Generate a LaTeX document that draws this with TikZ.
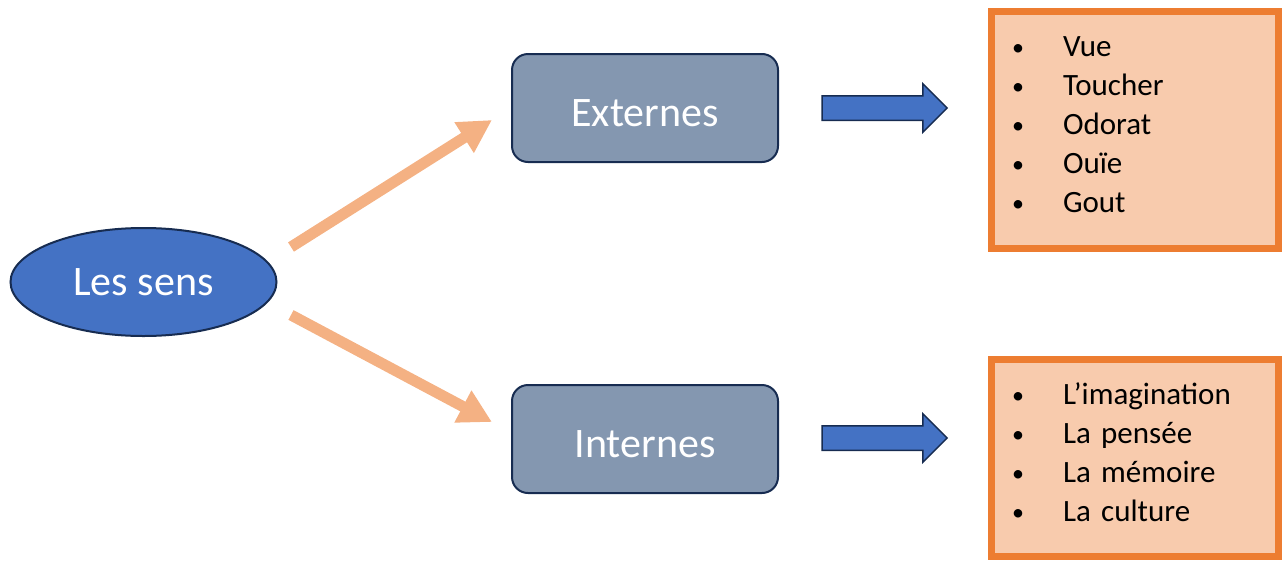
\documentclass[tikz,border=0pt]{standalone}
\usepackage{fontspec}
\setmainfont{Carlito}
\usetikzlibrary{calc, arrows.meta, shapes.geometric, shapes.arrows}
\usepackage{xcolor}
\definecolor{c1}{HTML}{4472C4}
\definecolor{c2}{HTML}{172C51}
\definecolor{c3}{HTML}{8497B0}
\definecolor{c4}{HTML}{F4B183}
\definecolor{c5}{HTML}{F8CBAD}
\definecolor{c6}{HTML}{ED7D31}

\newcommand{\itm}[1]{\makebox[51pt][l]{\raisebox{1.5pt}{\fontsize{24}{24}\selectfont •}}#1}
\newcommand{\senslist}[1]{\raisebox{2.5pt}[\height][\depth]{\begin{tabular}{@{}l@{}}#1\end{tabular}}}

\begin{document}
\begin{tikzpicture}[x=1pt, y=-1pt,
		sens/.style={ellipse, draw=c2, fill=c1, line width=2pt, minimum width=266pt, minimum height=108pt, inner sep=0pt, text=white, font=\fontsize{42}{50}\selectfont},
		kind/.style={rectangle, rounded corners=16pt, draw=c2, fill=c3, line width=2pt, minimum width=266pt, minimum height=108pt, inner sep=0pt, text height=36pt, text depth=0pt, text=white, font=\fontsize{42}{50}\selectfont},
		blockarrow/.style={single arrow, draw=c2, fill=c1, line width=1.5pt, minimum height=125pt, inner xsep=0pt, inner ysep=11.5pt, single arrow head extend=12pt, single arrow head indent=0pt},
		listbox/.style={rectangle, draw=c6, fill=c5, line width=7pt, minimum width=287pt, inner xsep=21pt, text width=245pt, align=left, font=\fontsize{31}{39}\selectfont},
		bigarrow/.style={c4, line width=11pt, -{Triangle[width=34pt, length=33pt]}}]
	\useasboundingbox (0, 0) rectangle (1282, 560);

	\node[sens] (les) at (143.5, 282) {Les sens};
	\node[kind] (ext) at (645, 108) {Externes};
	\node[kind] (int) at (645, 439) {Internes};

	\draw[bigarrow] ($(les.east) + (13.5, -35)$) -- ($(ext.west) + (-19, 12)$);
	\draw[bigarrow] ($(les.east) + (13.5, 33)$) -- ($(int.west) + (-19, -17)$);

	\node[blockarrow] (a1) at (878.5, 108) {};
	\node[blockarrow] (a2) at (878.5, 438) {};

	\node[listbox, minimum height=237pt] (ext list) at (1134.5, 129.5) {\senslist{\itm{Vue}\\ \itm{Toucher}\\ \itm{Odorat}\\ \itm{Ouïe}\\ \itm{Gout}}};
	\node[listbox, minimum height=197pt] (int list) at (1134.5, 458) {\senslist{\itm{L’imagination}\\ \itm{La pensée}\\ \itm{La mémoire}\\ \itm{La culture}}};
\end{tikzpicture}
\end{document}
